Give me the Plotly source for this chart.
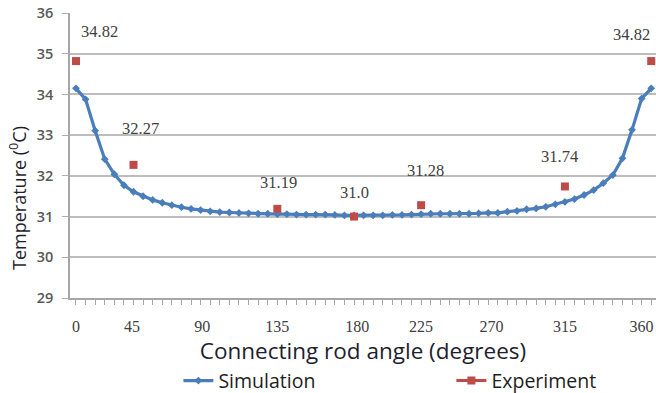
import plotly.graph_objects as go

# ---- data ----
sim_angles = list(range(0, 361, 6))
sim_temps = [34.15, 33.88, 33.11, 32.41, 32.04, 31.77, 31.61, 31.50, 31.41, 31.34,
             31.28, 31.23, 31.19, 31.16, 31.13, 31.11, 31.10, 31.09, 31.08, 31.07,
             31.07, 31.06, 31.06, 31.05, 31.05, 31.05, 31.05, 31.04, 31.03, 31.03,
             31.03, 31.03, 31.03, 31.04, 31.04, 31.05, 31.06, 31.07, 31.07, 31.07,
             31.07, 31.07, 31.08, 31.09, 31.09, 31.12, 31.14, 31.18, 31.20, 31.24,
             31.30, 31.36, 31.43, 31.53, 31.65, 31.82, 32.02, 32.43, 33.13, 33.90,
             34.15]

# experiment points, at the angles where they sit in the picture
exp_angles = [0, 36, 126, 174, 216, 306, 360]
exp_temps = [34.82, 32.27, 31.19, 31.0, 31.28, 31.74, 34.82]
exp_labels = ["34.82", "32.27", "31.19", "31.0", "31.28", "31.74", "34.82"]

# x tick labels, at the positions where they sit in the picture
tick_positions = [0, 35, 79, 126, 176, 216, 260, 306, 354]
tick_labels = ["0", "45", "90", "135", "180", "225", "270", "315", "360"]

y_ticks = [29, 30, 31, 32, 33, 34, 35, 36]

# label offsets (px) for the experiment data labels
label_dx = [24, 7, 1, 0, 4, -5, -20]
label_dy = [30, 36, 26, 24, 35, 30, 27]

SIM_BLUE = "#4a7ebb"
EXP_RED = "#be4b48"

# interleave None so the experiment trace shows a line in the legend only
ex_x, ex_y = [], []
for a, t in zip(exp_angles, exp_temps):
    ex_x += [a, None]
    ex_y += [t, None]

fig = go.Figure()
fig.add_trace(go.Scatter(
    x=sim_angles, y=sim_temps, mode="lines+markers", name="Simulation",
    line=dict(color=SIM_BLUE, width=3.2),
    marker=dict(symbol="diamond", size=6, color=SIM_BLUE),
))
fig.add_trace(go.Scatter(
    x=ex_x, y=ex_y, mode="lines+markers", name="Experiment",
    line=dict(color=EXP_RED, width=3), connectgaps=False,
    marker=dict(symbol="square", size=8, color=EXP_RED),
))

for a, t, s, dx, dy in zip(exp_angles, exp_temps, exp_labels, label_dx, label_dy):
    fig.add_annotation(x=a, y=t, text=s, showarrow=False, xshift=dx, yshift=dy,
                       font=dict(family="Liberation Serif", size=16.5, color="#404040"))

# y-axis title (placed like the reference, a little below the axis centre)
fig.add_annotation(text="Temperature (<sup>0</sup>C)", textangle=-90, showarrow=False,
                   xref="paper", yref="paper", x=0, y=0.351, xanchor="center",
                   yanchor="middle", xshift=-52,
                   font=dict(family="Open Sans", size=18, color="#1e1e2e"))

fig.update_layout(
    width=656, height=393,
    margin=dict(l=70, r=0, t=13, b=95, autoexpand=False),
    plot_bgcolor="white", paper_bgcolor="white",
    showlegend=True,
    legend=dict(orientation="h", x=0.185, y=-0.291, xanchor="left", yanchor="middle",
                entrywidth=228, entrywidthmode="pixels",
                font=dict(family="Open Sans", size=19.5, color="#1e1e1e"),
                bgcolor="rgba(0,0,0,0)"),
)

fig.update_xaxes(
    range=[-3.75, 363], automargin=False,
    tickmode="array", tickvals=tick_positions, ticktext=tick_labels,
    ticks="", ticklabelstandoff=13,
    tickfont=dict(family="Liberation Serif", size=16, color="#404040"),
    showgrid=False, zeroline=False,
    showline=True, linecolor="#a6a6a6", linewidth=1.5,
    minor=dict(ticks="outside", ticklen=5, tickcolor="#a6a6a6", tick0=0, dtick=6,
               showgrid=False),
    title=dict(text="Connecting rod angle (degrees)", standoff=2,
               font=dict(family="Open Sans", size=22.5, color="#1e1e2e")),
)
fig.update_yaxes(
    range=[29, 36.001], tickmode="array", tickvals=y_ticks, automargin=False,
    ticks="outside", ticklen=6, tickcolor="#b0b0b0", ticklabelstandoff=6,
    tickfont=dict(family="Open Sans", size=14.5, color="#595959", weight=600),
    showgrid=True, gridcolor="#bdbdbd", gridwidth=1.5, zeroline=False,
    showline=True, linecolor="#a6a6a6", linewidth=1.5,
)

fig.write_html(
    "out.html",
    config={"displayModeBar": False},
    post_script="document.body.style.margin='0';document.body.style.overflow='hidden';",
)
